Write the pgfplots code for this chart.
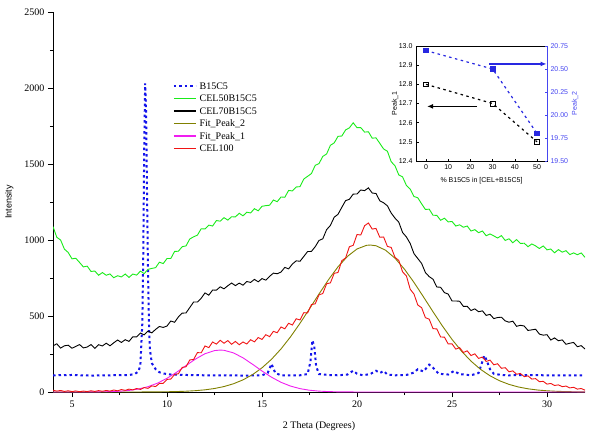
\documentclass[border=0pt]{standalone}
\usepackage{fontspec}
\setmainfont{Liberation Serif}
\setsansfont{Liberation Sans}
\usepackage{pgfplots}
\pgfplotsset{compat=1.18}
\usetikzlibrary{arrows.meta}
\definecolor{cgreen}{RGB}{25,235,25}
\definecolor{cred}{RGB}{240,20,20}
\definecolor{cmag}{RGB}{240,30,240}
\definecolor{colive}{RGB}{128,128,0}
\definecolor{cblue}{RGB}{20,20,235}
\definecolor{inblue}{RGB}{40,40,225}
\definecolor{lblue}{RGB}{70,70,240}
\pgfplotsset{/pgf/number format/assume math mode=true}
\begin{document}
\begin{tikzpicture}
\begin{axis}[
  at={(0pt,0pt)}, anchor=south west,
  scale only axis, width=532pt, height=380pt,
  xmin=4, xmax=32, ymin=0, ymax=2500,
  axis x line*=bottom, axis y line*=left,
  axis line style={line width=0.8pt},
  tick align=outside,
  xtick={5,10,15,20,25,30}, ytick={0,500,1000,1500,2000,2500},
  minor x tick num=1, minor y tick num=1,
  major tick length=5pt, minor tick length=3pt,
  every tick/.style={black, line width=0.8pt},
  tick label style={font=\fontsize{10}{12}\selectfont},
  /pgf/number format/1000 sep={},
  xlabel={2 Theta (Degrees)}, ylabel={Intensity},
  xlabel style={at={(axis description cs:0.5,-0.09)}, anchor=center, font=\fontsize{10}{12}\selectfont},
  ylabel style={at={(axis description cs:-0.082,0.5)}, anchor=center, font=\sffamily\fontsize{9}{11}\selectfont},
  legend style={draw=none, fill=none, at={(axis description cs:0.2256,0.818)}, anchor=north west,
    inner sep=0pt, font=\fontsize{10}{12}\selectfont, row sep=2pt, column sep=3pt,
    nodes={inner sep=0pt, text height=8pt, text depth=2.5pt}},
  legend cell align=left,
  legend image code/.code={\draw[#1, line cap=butt, line width=1.4pt] (0pt,0.5pt) -- (22pt,0.5pt);},
]
% B15C5
\addplot[cblue, line width=2pt, line cap=butt, dash pattern=on 2.5pt off 3pt] coordinates {
(4.0,110) (5.0,112) (6.0,108) (7.0,110) (7.5,111) (8.0,112) (8.3,118) (8.5,135) (8.6,180) (8.7,450) (8.75,900) (8.8,1600) (8.85,2030) (8.9,1850) (8.95,1300) (9.0,800) (9.05,450) (9.1,280) (9.2,190) (9.4,150) (9.6,130) (9.8,122) (10.2,115) (11.0,112) (12.0,110) (13.0,110) (14.0,108) (15.0,110) (15.3,125) (15.5,185) (15.7,125) (16.0,110) (17.0,110) (17.4,118) (17.55,200) (17.65,340) (17.75,300) (17.85,170) (18.0,118) (18.5,112) (19.0,110) (19.5,115) (19.8,140) (20.0,120) (20.3,110) (20.7,118) (21.0,140) (21.2,125) (21.4,138) (21.6,115) (22.0,110) (22.6,112) (23.0,128) (23.2,150) (23.5,135) (23.8,180) (24.0,160) (24.3,120) (24.8,115) (25.1,138) (25.4,118) (26.0,110) (26.4,125) (26.6,200) (26.7,240) (26.8,215) (27.0,150) (27.2,120) (27.6,112) (28.0,110) (29.0,111) (30.0,110) (31.0,110) (32.0,110)};
\addlegendentry{B15C5}
% CEL50B15C5
\addplot[cgreen, line width=0.9pt] coordinates {
(4.0,1088) (4.2,1018) (4.4,1000) (4.6,940) (4.8,918) (5.0,876) (5.2,880) (5.4,852) (5.6,823) (5.8,828)
(6.0,793) (6.2,796) (6.4,768) (6.6,786) (6.8,768) (7.0,777) (7.2,752) (7.4,765) (7.6,757) (7.8,776)
(8.0,754) (8.2,776) (8.4,769) (8.6,795) (8.8,779) (9.0,807) (9.2,813) (9.4,818) (9.6,854) (9.8,845)
(10.0,878) (10.2,878) (10.4,925) (10.6,926) (10.8,956) (11.0,961) (11.2,1007) (11.4,1021) (11.6,1032) (11.8,1074)
(12.0,1073) (12.2,1098) (12.4,1092) (12.6,1128) (12.8,1124) (13.0,1147) (13.2,1131) (13.4,1153) (13.6,1152) (13.8,1176)
(14.0,1159) (14.2,1183) (14.4,1178) (14.6,1206) (14.8,1192) (15.0,1222) (15.2,1226) (15.4,1229) (15.6,1263) (15.8,1252)
(16.0,1283) (16.2,1281) (16.4,1326) (16.6,1323) (16.8,1349) (17.0,1351) (17.2,1401) (17.4,1419) (17.6,1437) (17.8,1491)
(18.0,1503) (18.2,1550) (18.4,1566) (18.6,1623) (18.8,1639) (19.0,1682) (19.2,1684) (19.4,1724) (19.6,1738) (19.8,1771)
(20.0,1739) (20.2,1739) (20.4,1710) (20.6,1712) (20.8,1670) (21.0,1672) (21.2,1636) (21.4,1599) (21.6,1584) (21.8,1515)
(22.0,1488) (22.2,1428) (22.4,1415) (22.6,1359) (22.8,1335) (23.0,1286) (23.2,1278) (23.4,1238) (23.6,1201) (23.8,1203)
(24.0,1163) (24.2,1162) (24.4,1130) (24.6,1143) (24.8,1119) (25.0,1122) (25.2,1092) (25.4,1100) (25.6,1084) (25.8,1092)
(26.0,1059) (26.2,1068) (26.4,1048) (26.6,1059) (26.8,1028) (27.0,1040) (27.2,1027) (27.4,1013) (27.6,1029) (27.8,997)
(28.0,1008) (28.2,982) (28.4,1003) (28.6,977) (28.8,979) (29.0,956) (29.2,974) (29.4,961) (29.6,944) (29.8,961)
(30.0,935) (30.2,941) (30.4,916) (30.6,937) (30.8,920) (31.0,930) (31.2,904) (31.4,915) (31.6,903) (31.8,915) (32.0,886)};
\addlegendentry{CEL50B15C5}
% CEL70B15C5
\addplot[black, line width=0.9pt] coordinates {
(4.0,304) (4.2,317) (4.4,289) (4.6,304) (4.8,308) (5.0,288) (5.2,300) (5.4,312) (5.6,290) (5.8,296)
(6.0,312) (6.2,287) (6.4,311) (6.6,303) (6.8,321) (7.0,304) (7.2,324) (7.4,342) (7.6,326) (7.8,344)
(8.0,333) (8.2,363) (8.4,363) (8.6,388) (8.8,376) (9.0,401) (9.2,389) (9.4,412) (9.6,431) (9.8,425)
(10.0,434) (10.2,467) (10.4,459) (10.6,494) (10.8,519) (11.0,520) (11.2,556) (11.4,592) (11.6,592) (11.8,617)
(12.0,652) (12.2,637) (12.4,671) (12.6,670) (12.8,692) (13.0,679) (13.2,699) (13.4,717) (13.6,700) (13.8,716)
(14.0,703) (14.2,727) (14.4,721) (14.6,741) (14.8,725) (15.0,746) (15.2,736) (15.4,761) (15.6,782) (15.8,778)
(16.0,789) (16.2,820) (16.4,810) (16.6,842) (16.8,863) (17.0,860) (17.2,892) (17.4,924) (17.6,925) (17.8,956)
(18.0,997) (18.2,1008) (18.4,1068) (18.6,1096) (18.8,1150) (19.0,1169) (19.2,1215) (19.4,1259) (19.6,1268) (19.8,1302)
(20.0,1303) (20.2,1329) (20.4,1325) (20.6,1343) (20.8,1309) (21.0,1306) (21.2,1258) (21.4,1245) (21.6,1225) (21.8,1177)
(22.0,1144) (22.2,1117) (22.4,1049) (22.6,1020) (22.8,977) (23.0,910) (23.2,878) (23.4,846) (23.6,786) (23.8,759)
(24.0,742) (24.2,691) (24.4,689) (24.6,654) (24.8,644) (25.0,599) (25.2,599) (25.4,597) (25.6,563) (25.8,564)
(26.0,536) (26.2,547) (26.4,528) (26.6,534) (26.8,504) (27.0,511) (27.2,483) (27.4,490) (27.6,492) (27.8,468)
(28.0,459) (28.2,466) (28.4,432) (28.6,439) (28.8,434) (29.0,405) (29.2,409) (29.4,413) (29.6,381) (29.8,374)
(30.0,377) (30.2,342) (30.4,356) (30.6,337) (30.8,343) (31.0,314) (31.2,321) (31.4,326) (31.6,298) (31.8,305) (32.0,283)};
\addlegendentry{CEL70B15C5}
% Fit_Peak_2
\addplot[colive, line width=0.9pt] coordinates {
(4,0) (6,0) (8,0.1) (9,0.5) (10,1.7) (10.5,3.0) (11,5.2) (11.5,8.8) (12,14.4) (12.5,23.1) (13,35.9) (13.5,54.3) (14,79.9) (14.5,114.2) (15,159.1) (15.5,215.3) (16,283.4) (16.5,362.9) (17,452.0) (17.5,547.4) (18,645.0) (18.5,739.0) (19,823.6) (19.5,892.6) (20,941.1) (20.5,964.9) (20.7,967) (21,962.2) (21.5,933.2) (22,880.4) (22.5,807.7) (23,720.8) (23.5,625.5) (24,528.1) (24.5,433.5) (25,346.2) (25.5,268.8) (26,203.1) (26.5,149.2) (27,106.7) (27.5,74.1) (28,50.1) (28.5,32.9) (29,21.1) (29.5,13.1) (30,7.9) (30.5,4.7) (31,2.7) (31.5,1.5) (32,0.8)};
\addlegendentry{Fit\_Peak\_2}
% Fit_Peak_1
\addplot[cmag, line width=0.9pt] coordinates {
(4,0) (6,0.4) (7,2.3) (7.5,5.0) (8,10.3) (8.5,19.7) (9,35.1) (9.5,58.2) (10,90.1) (10.5,129.6) (11,173.7) (11.5,216.8) (12,251.9) (12.5,272.5) (12.8,276) (13,274.4) (13.5,257.3) (14,224.7) (14.5,182.7) (15,138.2) (15.5,97.4) (16,63.9) (16.5,39.0) (17,22.2) (17.5,11.8) (18,5.8) (18.5,2.7) (19,1.1) (20,0.2) (21,0) (32,0)};
\addlegendentry{Fit\_Peak\_1}
% CEL100
\addplot[cred, line width=0.9pt] coordinates {
(4.0,12) (4.2,6) (4.4,10) (4.6,4) (4.8,8) (5.0,3) (5.2,7) (5.4,2) (5.6,6) (5.8,3)
(6.0,8) (6.2,4) (6.4,9) (6.6,5) (6.8,10) (7.0,6) (7.2,13) (7.4,8) (7.6,16) (7.8,11)
(8.0,19) (8.2,14) (8.4,23) (8.6,17) (8.8,29) (9.0,24) (9.2,40) (9.4,36) (9.6,56) (9.8,57)
(10.0,83) (10.2,85) (10.4,116) (10.6,120) (10.8,162) (11.0,166) (11.2,211) (11.4,214) (11.6,259) (11.8,258)
(12.0,303) (12.2,292) (12.4,329) (12.6,315) (12.8,340) (13.0,321) (13.2,338) (13.4,314) (13.6,333) (13.8,311)
(14.0,329) (14.2,316) (14.4,344) (14.6,330) (14.8,358) (15.0,346) (15.2,377) (15.4,364) (15.6,399) (15.8,390)
(16.0,428) (16.2,416) (16.4,452) (16.6,441) (16.8,482) (17.0,474) (17.2,522) (17.4,520) (17.6,575) (17.8,580)
(18.0,639) (18.2,648) (18.4,712) (18.6,718) (18.8,781) (19.0,786) (19.2,864) (19.4,882) (19.6,956) (19.8,965)
(20.0,1036) (20.2,1033) (20.4,1094) (20.6,1112) (20.8,1072) (21.0,1076) (21.2,1018) (21.4,1020) (21.6,958) (21.8,951)
(22.0,886) (22.2,866) (22.4,790) (22.6,764) (22.8,676) (23.0,644) (23.2,572) (23.4,555) (23.6,489) (23.8,479)
(24.0,417) (24.2,415) (24.4,362) (24.6,361) (24.8,316) (25.0,317) (25.2,282) (25.4,292) (25.6,260) (25.8,271)
(26.0,240) (26.2,251) (26.4,221) (26.6,230) (26.8,201) (27.0,210) (27.2,179) (27.4,186) (27.6,156) (27.8,160)
(28.0,133) (28.2,139) (28.4,117) (28.6,122) (28.8,101) (29.0,106) (29.2,85) (29.4,88) (29.6,68) (29.8,70)
(30.0,52) (30.2,56) (30.4,43) (30.6,47) (30.8,35) (31.0,39) (31.2,27) (31.4,31) (31.6,19) (31.8,23) (32.0,12)};
\addlegendentry{CEL100}
\end{axis}
% inset, left axis (Peak_1)
\begin{axis}[
  at={(363pt,231pt)}, anchor=south west,
  scale only axis, width=131pt, height=115pt,
  xmin=-4.5, xmax=54.5, ymin=12.4, ymax=13.0,
  axis background/.style={fill=white},
  xtick={0,10,20,30,40,50}, ytick={12.4,12.5,12.6,12.7,12.8,12.9,13.0},
  ytick pos=left, xtick pos=bottom,
  tick align=inside, major tick length=2.5pt,
  axis line style={line width=0.6pt},
  every tick/.style={black, line width=0.5pt},
  tick label style={font=\sffamily\fontsize{7}{8}\selectfont},
  yticklabel style={/pgf/number format/.cd, fixed, fixed zerofill, precision=1},
  xlabel={\% B15C5 in [CEL+B15C5]}, ylabel={Peak\_1},
  xlabel style={at={(axis description cs:0.5,-0.171)}, anchor=center, font=\sffamily\fontsize{7}{8}\selectfont},
  ylabel style={at={(axis description cs:-0.16,0.5)}, anchor=center, font=\sffamily\fontsize{7}{8}\selectfont},
  clip=false,
]
\addplot[black, line width=1.2pt, dash pattern=on 2.5pt off 3.5pt, mark=square, mark size=2.3pt, mark options={solid, fill=white, line width=0.5pt}] coordinates {(0,12.8) (30,12.7) (50,12.5)};
\draw[black, line width=1.3pt, -{Latex[length=6pt,width=5pt]}] (axis cs:23,12.685) -- (axis cs:0.5,12.685);
\end{axis}
% inset, right axis (Peak_2)
\begin{axis}[
  at={(363pt,231pt)}, anchor=south west,
  scale only axis, width=131pt, height=115pt,
  xmin=-4.5, xmax=54.5, ymin=19.5, ymax=20.75,
  axis y line*=right, axis x line=none,
  ytick={19.5,19.75,20,20.25,20.5,20.75},
  tick align=inside, major tick length=2.5pt,
  y axis line style={lblue, line width=0.6pt},
  every tick/.style={lblue, line width=0.5pt},
  tick label style={font=\sffamily\fontsize{7}{8}\selectfont, text=lblue},
  yticklabel style={/pgf/number format/.cd, fixed, fixed zerofill, precision=2},
  ylabel={Peak\_2},
  ylabel style={at={(axis description cs:1.214,0.5)}, anchor=center, font=\sffamily\fontsize{7}{8}\selectfont, text=lblue},
  clip=false,
]
\addplot[inblue, line width=1.2pt, dash pattern=on 2.5pt off 3.5pt, mark=square*, mark size=2.3pt, mark options={solid}] coordinates {(0,20.7) (30,20.5) (50,19.8)};
\draw[inblue, line width=1.3pt, -{Latex[length=6pt,width=5pt]}] (axis cs:28.5,20.555) -- (axis cs:54.3,20.555);
\end{axis}
\pgfresetboundingbox
\path[use as bounding box] (-53pt,-45pt) rectangle (548pt,392pt);
\end{tikzpicture}
\end{document}
